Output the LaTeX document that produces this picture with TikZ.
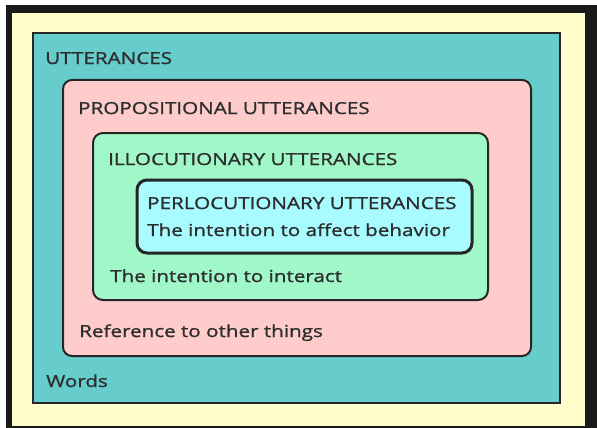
\documentclass[tikz,border=0pt]{standalone}
\usepackage{fontspec}
\setmainfont{Open Sans}[FakeStretch=1.25, FakeBold=1.3]
\definecolor{cream}{HTML}{FFFDCC}
\definecolor{tealf}{HTML}{66CCCC}
\definecolor{pinkf}{HTML}{FFCCCC}
\definecolor{greenf}{HTML}{A0F8C8}
\definecolor{cyanf}{HTML}{A8FCFF}
\definecolor{txt}{HTML}{2E2E2E}
\tikzset{
  lvl/.style={draw=black!85, line width=2pt},
  lbl/.style={anchor=base west, inner sep=0pt, text=txt, font=\fontsize{16.5}{19}\selectfont}
}
\begin{document}
\begin{tikzpicture}[x=1pt,y=-1pt]
\useasboundingbox (0,0) rectangle (597,428);
\fill[white] (0,0) rectangle (597,428);
\fill[black!90] (6,5) rectangle (597,428);
\fill[cream] (12,13) rectangle (585,426);
\draw[lvl, fill=tealf] (33,33) rectangle (560,403);
\draw[lvl, fill=pinkf, rounded corners=9pt] (63,80) rectangle (531,356);
\draw[lvl, fill=greenf, rounded corners=10pt] (93,133) rectangle (488,300);
\draw[lvl, line width=3pt, fill=cyanf, rounded corners=10pt] (137,180) rectangle (472,253);
\node[lbl] (u) at (45,64) {UTTERANCES};
\node[lbl] (p) at (78,114) {PROPOSITIONAL UTTERANCES};
\node[lbl] (i) at (108,165) {ILLOCUTIONARY UTTERANCES};
\node[lbl] (pl) at (147,209) {PERLOCUTIONARY UTTERANCES};
\node[lbl] (pb) at (147,236) {The intention to affect behavior};
\node[lbl] (ib) at (110,282) {The intention to interact};
\node[lbl] (rb) at (79,337) {Reference to other things};
\node[lbl] (w) at (46,387) {Words};
\end{tikzpicture}
\end{document}
